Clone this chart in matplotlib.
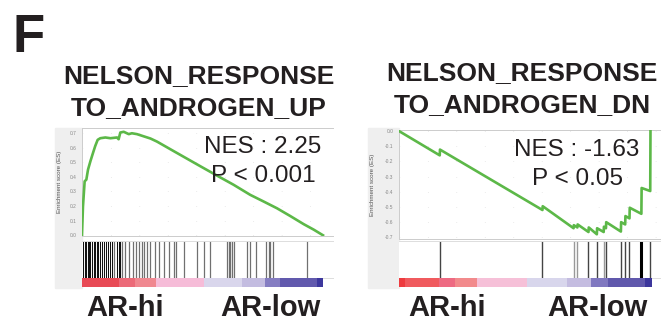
import numpy as np
import matplotlib.pyplot as plt
from matplotlib.patches import Rectangle

plt.rcParams['font.family'] = ['Liberation Sans', 'DejaVu Sans']

# running enrichment score, UP gene set (x = fraction of ranked list)
up_x = [0, .004, .011, .018, .025, .035, .046, .055, .065, .076, .097, .118, .145, .152,
        .159, .173, .194, .207, .228, .284, .311, .380, .491, .560, .629, .698, .754,
        .809, .864, .920, .961, 1.0]
up_es = [0, .196, .370, .381, .450, .508, .566, .612, .654, .665, .670, .665, .670, .658,
         .704, .709, .693, .699, .693, .663, .642, .577, .473, .409, .346, .277, .231,
         .185, .132, .076, .039, 0]
up_hits_dark = [.004, .011, .018, .024, .028, .035, .041, .048, .055, .062, .066, .073,
                .083, .090, .100, .107, .118, .124, .145, .152, .156, .159]
up_hits_grey = [.134, .166, .180, .194, .212, .225, .235, .249, .259, .270, .284, .304,
                .318, .339, .360, .380, .391, .422, .477, .508, .530, .602, .609, .616,
                .622, .632, .685, .698, .723, .765, .775, .781, .793, .934]

# running enrichment score, DN gene set
dn_x = [0, .161, .162, .567, .568, .690, .691, .705, .706, .749, .750, .782, .783, .809,
        .810, .818, .819, .877, .878, .894, .895, .911, .912, .958, .959, .993, .994]
dn_es = [0, -.160, -.122, -.520, -.495, -.640, -.620, -.635, -.615, -.665, -.635, -.680,
         -.640, -.665, -.630, -.640, -.600, -.662, -.600, -.615, -.560, -.575, -.505,
         -.545, -.375, -.395, 0]
dn_hits_dark = [.161, .567, .749, .782, .818, .877, .894, .911, .993]
dn_hits_grey = [.690, .705, .809]
dn_hits_bold = [.958]

# ranked list metric colour bars
up_bar_edges = [0, .152, .221, .308, .505, .664, .761, .823, .975, 1.0]
up_bar_colors = ['#e84a55', '#ec6a78', '#f08890', '#f6bcd8', '#d9d6ec', '#c3bce0',
                 '#857dc2', '#6159ad', '#3d379d']
dn_bar_edges = [0, .022, .159, .221, .309, .505, .663, .760, .828, .974, 1.0]
dn_bar_colors = ['#ee3b3f', '#f05a5e', '#ee6a82', '#f28a8c', '#f6c0d8', '#d8d6ec',
                 '#c4bce0', '#8078c0', '#6058ac', '#3c369c']

up_ticks = [0.0, 0.1, 0.2, 0.3, 0.4, 0.5, 0.6, 0.7]
dn_ticks = [0.0, -0.1, -0.2, -0.3, -0.4, -0.5, -0.6, -0.7]

W, H = 661, 322
fig = plt.figure(figsize=(W / 100, H / 100), dpi=100)


def box(x0, y0, x1, y1):
    # pixel box (top-left origin) -> figure fraction rect
    return [x0 / W, 1 - y1 / H, (x1 - x0) / W, (y1 - y0) / H]


def panel(g0, x0, x1, bar_end, es_top, es_bot, lab_x, xs, es, ylim, ticks, hits,
          bar_edges, bar_colors):
    xmax = (x1 - x0) / (bar_end - x0)
    # grey margin on the left of the GSEA plot
    fig.patches.append(Rectangle((g0 / W, 1 - 288 / H), (x0 - g0) / W, 160 / H,
                                 transform=fig.transFigure, color='#efefef', zorder=-5))
    ax = fig.add_axes(box(x0, es_top, x1, es_bot))
    ax.plot(xs, es, color='#5cb848', lw=1.9, zorder=3)
    ax.set_xlim(0, xmax)
    ax.set_ylim(*ylim)
    ax.set_yticks(ticks)
    ax.set_yticklabels(['%.1f' % t for t in ticks])
    ax.set_xticks([])
    ax.tick_params(axis='y', length=0, labelsize=3.5, labelcolor='#888888', pad=4)
    ax.grid(axis='y', color='#d8d8d8', lw=0.5, linestyle=(0, (1, 40)))
    for s in ax.spines.values():
        s.set_color('#cccccc')
        s.set_linewidth(0.7)
    ax.spines['right'].set_visible(False)
    ax.set_ylabel('Enrichment score (ES)', fontsize=4.5, color='#555555')
    ax.yaxis.set_label_coords((lab_x - x0) / (x1 - x0), 0.5)

    hx = fig.add_axes(box(x0, 241, x1, 278))
    for group, col, lw in hits:
        hx.vlines(group, 0, 1, color=col, lw=lw)
    hx.set_xlim(0, xmax)
    hx.set_ylim(0, 1)
    hx.set_xticks([])
    hx.set_yticks([])
    for s in hx.spines.values():
        s.set_color('#dddddd')
        s.set_linewidth(0.7)
    hx.spines['right'].set_visible(False)
    hx.spines['left'].set_visible(False)

    bx = fig.add_axes(box(x0, 278, x1, 287))
    bx.barh(0, np.diff(bar_edges), left=bar_edges[:-1], height=1, color=bar_colors, lw=0)
    bx.set_xlim(0, xmax)
    bx.set_ylim(-0.5, 0.5)
    bx.axis('off')
    return ax


panel(55, 82, 333, 323, 128, 236, 62, up_x, up_es, (-0.005, 0.735), up_ticks,
      [(up_hits_grey, '#707070', 0.9), (up_hits_dark, '#111111', 0.75)],
      up_bar_edges, up_bar_colors)
panel(368, 399, 661, 652, 130, 239, 375, dn_x, dn_es, (-0.711, 0.007), dn_ticks,
      [(dn_hits_grey, '#999999', 1.0), (dn_hits_dark, '#444444', 1.0),
       (dn_hits_bold, '#000000', 2.2)],
      dn_bar_edges, dn_bar_colors)


def ftext(x, y, s, **kw):
    fig.text(x / W, 1 - y / H, s, va='baseline', color='#231f20', **kw)


ftext(13, 52, 'F', fontsize=38, fontweight='bold')
ftext(199, 83, 'NELSON_RESPONSE', fontsize=19, fontweight='bold', ha='center')
ftext(199, 115, 'TO_ANDROGEN_UP', fontsize=19, fontweight='bold', ha='center')
ftext(522, 80, 'NELSON_RESPONSE', fontsize=19, fontweight='bold', ha='center')
ftext(522, 112, 'TO_ANDROGEN_DN', fontsize=19, fontweight='bold', ha='center')

ftext(263, 153, 'NES : 2.25', fontsize=17.5, ha='center')
ftext(263, 182, 'P < 0.001', fontsize=17.5, ha='center')
ftext(577, 156, 'NES : -1.63', fontsize=17.5, ha='center')
ftext(577, 185, 'P < 0.05', fontsize=17.5, ha='center')

ftext(125, 316, 'AR-hi', fontsize=21, fontweight='bold', ha='center')
ftext(270, 316, 'AR-low', fontsize=21, fontweight='bold', ha='center')
ftext(447, 316, 'AR-hi', fontsize=21, fontweight='bold', ha='center')
ftext(597, 316, 'AR-low', fontsize=21, fontweight='bold', ha='center')

fig.savefig('out.png', dpi=100)
